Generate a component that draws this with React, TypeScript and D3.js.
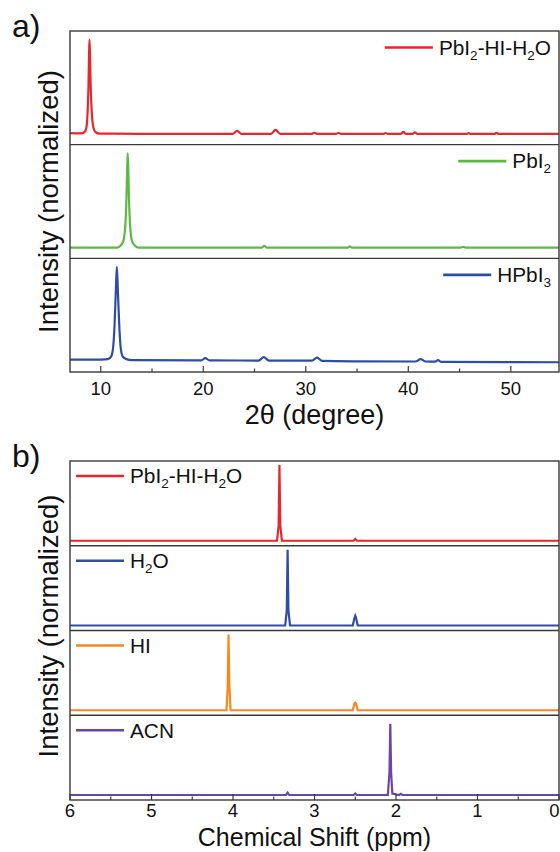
import React, { useLayoutEffect, useRef, useState } from "react";
import * as d3 from "d3";

// ---------- DATA ----------
// XRD patterns (2θ in degree, normalized intensity)
const xrdRed: [number, number][] = [
  [7, 0.02], [8.0, 0.018], [8.4, 0.03], [8.6, 0.08], [8.72, 0.25], [8.8, 0.5], [8.86, 0.85], [8.9, 1.0],
  [8.95, 0.85], [9.02, 0.5], [9.12, 0.25], [9.28, 0.08], [9.5, 0.03], [9.9, 0.016], [14, 0.014],
  [22.9, 0.014], [23.3, 0.045], [23.7, 0.014], [26.6, 0.014], [27.05, 0.055], [27.5, 0.014],
  [30.6, 0.014], [30.85, 0.025], [31.1, 0.014], [33.0, 0.014], [33.2, 0.025], [33.4, 0.014],
  [37.6, 0.014], [37.8, 0.022], [38.0, 0.014], [39.3, 0.014], [39.5, 0.035], [39.75, 0.014],
  [40.45, 0.014], [40.65, 0.03], [40.85, 0.014], [45.7, 0.012], [45.9, 0.02], [46.1, 0.012],
  [48.4, 0.012], [48.6, 0.025], [48.8, 0.012], [54.7, 0.012],
];
const xrdGreen: [number, number][] = [
  [7, 0.012], [11.6, 0.012], [11.9, 0.03], [12.2, 0.08], [12.4, 0.25], [12.5, 0.5], [12.58, 0.85],
  [12.63, 1.0], [12.68, 0.85], [12.76, 0.5], [12.86, 0.25], [13.05, 0.08], [13.35, 0.03], [13.7, 0.012],
  [25.7, 0.012], [25.95, 0.03], [26.2, 0.012], [34.1, 0.012], [34.3, 0.025], [34.5, 0.012],
  [45.1, 0.012], [45.35, 0.02], [45.6, 0.012], [54.7, 0.012],
];
const xrdBlue: [number, number][] = [
  [7, 0.03], [10.0, 0.03], [10.7, 0.035], [11.0, 0.06], [11.2, 0.15], [11.35, 0.4], [11.47, 0.75],
  [11.57, 1.0], [11.67, 0.75], [11.8, 0.4], [11.95, 0.15], [12.15, 0.06], [12.5, 0.035], [13.0, 0.025],
  [19.8, 0.022], [20.2, 0.045], [20.6, 0.022], [25.4, 0.02], [25.9, 0.055], [26.4, 0.02],
  [30.6, 0.02], [31.1, 0.05], [31.6, 0.016], [35, 0.012], [40.7, 0.01], [41.2, 0.035], [41.7, 0.01],
  [42.6, 0.008], [42.9, 0.025], [43.2, 0.006], [54.7, 0.002],
];

// 1H NMR spectra (ppm, normalized intensity)
const nmrRed: [number, number][] = [
  [6, 0], [3.46, 0], [3.44, 0.2], [3.43, 1.0], [3.42, 0.2], [3.4, 0], [2.52, 0], [2.5, 0.025], [2.48, 0], [0, 0],
];
const nmrBlue: [number, number][] = [
  [6, 0], [3.36, 0], [3.34, 0.2], [3.33, 1.0], [3.32, 0.2], [3.3, 0], [2.53, 0], [2.51, 0.1], [2.5, 0.13],
  [2.49, 0.1], [2.47, 0], [0, 0],
];
const nmrOrange: [number, number][] = [
  [6, 0], [4.08, 0], [4.065, 0.3], [4.06, 0.6], [4.055, 1.0], [4.045, 0.35], [4.03, 0], [2.53, 0],
  [2.51, 0.09], [2.5, 0.1], [2.49, 0.09], [2.47, 0], [0, 0],
];
const nmrPurple: [number, number][] = [
  [6, 0], [3.35, 0], [3.33, 0.03], [3.31, 0], [2.52, 0], [2.5, 0.02], [2.48, 0], [2.1, 0], [2.08, 0.3],
  [2.07, 0.94], [2.06, 0.3], [2.045, 0.02], [1.96, 0], [1.94, 0.015], [1.92, 0], [0, 0],
];

const xrdNames = ["PbI_2-HI-H_2O", "PbI_2", "HPbI_3"];
const nmrNames = ["PbI_2-HI-H_2O", "H_2O", "HI", "ACN"];
const xrdColors = ["#e8262b", "#5cb946", "#2f4da3"];
const nmrColors = ["#e8262b", "#2f4da3", "#f7871f", "#6b47a3"];

const xrdTicks = [10, 20, 30, 40, 50];
const xrdMinor = [15, 25, 35, 45];
const nmrTicks = [6, 5, 4, 3, 2, 1, 0];
const nmrMinor = [5.5, 4.5, 3.5, 2.5, 1.5, 0.5];

const xrdTitle = "2θ (degree)";
const nmrTitle = "Chemical Shift (ppm)";
const yTitle = "Intensity (normalized)";

// ---------- LAYOUT ----------
const W = 560;
const H = 852;
const L = 70;
const R = 559;
const FONT = "'Liberation Sans', Arial, sans-serif";
const FRAME = "#3a3a3a";
const LEG_FS = 20.8;

function SubText({ label, subSize }: { label: string; subSize: number }) {
  const parts: React.ReactNode[] = [];
  let buf = "";
  let sub = false;
  let k = 0;
  for (let i = 0; i < label.length; i++) {
    const c = label[i];
    if (c === "_") {
      if (buf) parts.push(<tspan key={k++} dy={sub ? -5 : 0}>{buf}</tspan>);
      buf = "";
      parts.push(
        <tspan key={k++} fontSize={subSize} dy={5}>
          {label[i + 1]}
        </tspan>
      );
      i++;
      sub = true;
    } else {
      buf += c;
    }
  }
  if (buf) parts.push(<tspan key={k++} dy={sub ? -5 : 0}>{buf}</tspan>);
  return <>{parts}</>;
}

function Legend({
  label,
  color,
  x,
  y,
  anchor,
}: {
  label: string;
  color: string;
  x: number;
  y: number;
  anchor: "start" | "end";
}) {
  const ref = useRef<SVGTextElement>(null);
  const [w, setW] = useState(0);
  useLayoutEffect(() => {
    if (ref.current) setW(ref.current.getComputedTextLength());
  }, [label]);
  const lineLen = 48;
  const gap = 6;
  let lx1: number, lx2: number;
  if (anchor === "end") {
    lx2 = x - w - gap;
    lx1 = lx2 - lineLen;
  } else {
    lx1 = x - gap - lineLen;
    lx2 = x - gap;
  }
  return (
    <g>
      <line x1={lx1} x2={lx2} y1={y} y2={y} stroke={color} strokeWidth={2.6} />
      <text ref={ref} x={x} y={y + 7.3} textAnchor={anchor} fontSize={LEG_FS} fill="#111" fontFamily={FONT}>
        <SubText label={label} subSize={13.5} />
      </text>
    </g>
  );
}

export default function App() {
  // XRD section
  const xTop = 31;
  const xBottom = 372;
  const xrdPanelH = (xBottom - xTop) / 3;
  const xs = d3.scaleLinear().domain([7, 54.7]).range([L, R]);
  const xrdSeries = [xrdRed, xrdGreen, xrdBlue];

  // NMR section
  const nTop = 461;
  const nBottom = 800;
  const nmrPanelH = (nBottom - nTop) / 4;
  const ns = d3.scaleLinear().domain([6, 0]).range([L, R]);
  const nmrSeries = [nmrRed, nmrBlue, nmrOrange, nmrPurple];

  return (
    <svg
      width={W}
      height={H}
      style={{ position: "absolute", left: 0, top: 0, background: "#fff" }}
      fontFamily={FONT}
    >
      <rect x={0} y={0} width={W} height={H} fill="#fff" />
      {/* panel labels */}
      <text x={12} y={37} fontSize={32} fill="#111">a)</text>
      <text x={12} y={467} fontSize={32} fill="#111">b)</text>

      {/* XRD panels */}
      {xrdSeries.map((data, i) => {
        const top = xTop + i * xrdPanelH;
        const bot = top + xrdPanelH;
        const ys = d3.scaleLinear().domain([-0.1, 1.09]).range([bot, top]);
        const line = d3
          .line<[number, number]>()
          .x((d) => xs(d[0]))
          .y((d) => ys(d[1]))
          .curve(d3.curveMonotoneX);
        return (
          <g key={"x" + i}>
            <clipPath id={"cx" + i}>
              <rect x={L} y={top} width={R - L} height={xrdPanelH} />
            </clipPath>
            <path d={line(data) || ""} fill="none" stroke={xrdColors[i]} strokeWidth={2.2} clipPath={`url(#cx${i})`} />
            <Legend label={xrdNames[i]} color={xrdColors[i]} x={551} y={top + 16.5} anchor="end" />
          </g>
        );
      })}
      {[1, 2].map((i) => (
        <line key={"xd" + i} x1={L} x2={R} y1={xTop + i * xrdPanelH} y2={xTop + i * xrdPanelH} stroke={FRAME} strokeWidth={1.4} />
      ))}
      <rect x={L} y={xTop} width={R - L} height={xBottom - xTop} fill="none" stroke={FRAME} strokeWidth={1.4} />
      {xrdTicks.map((t) => (
        <g key={"xt" + t}>
          <line x1={xs(t)} x2={xs(t)} y1={xBottom} y2={xBottom - 6} stroke={FRAME} strokeWidth={1.2} />
          <text x={xs(t)} y={395} textAnchor="middle" fontSize={18.5} fill="#111">{t}</text>
        </g>
      ))}
      {xrdMinor.map((t) => (
        <line key={"xm" + t} x1={xs(t)} x2={xs(t)} y1={xBottom} y2={xBottom - 3.5} stroke={FRAME} strokeWidth={1.2} />
      ))}
      <text x={(L + R) / 2} y={424} textAnchor="middle" fontSize={27} fill="#111">{xrdTitle}</text>
      <text transform={`translate(58,${(xTop + xBottom) / 2}) rotate(-90)`} textAnchor="middle" fontSize={27.5} fill="#111">
        {yTitle}
      </text>

      {/* NMR panels */}
      {nmrSeries.map((data, i) => {
        const top = nTop + i * nmrPanelH;
        const bot = top + nmrPanelH;
        const ys = d3.scaleLinear().domain([-0.066, 1.053]).range([bot, top]);
        const line = d3
          .line<[number, number]>()
          .x((d) => ns(d[0]))
          .y((d) => ys(d[1]));
        return (
          <g key={"n" + i}>
            <path d={line(data) || ""} fill="none" stroke={nmrColors[i]} strokeWidth={2.2} />
            <Legend label={nmrNames[i]} color={nmrColors[i]} x={130} y={top + 15} anchor="start" />
          </g>
        );
      })}
      {[1, 2, 3].map((i) => (
        <line key={"nd" + i} x1={L} x2={R} y1={nTop + i * nmrPanelH} y2={nTop + i * nmrPanelH} stroke={FRAME} strokeWidth={1.4} />
      ))}
      <rect x={L} y={nTop} width={R - L} height={nBottom - nTop} fill="none" stroke={FRAME} strokeWidth={1.4} />
      {nmrTicks.map((t, i) => {
        const last = i === nmrTicks.length - 1;
        return (
          <g key={"nt" + t}>
            <line x1={ns(t)} x2={ns(t)} y1={nBottom} y2={nBottom - 6} stroke={FRAME} strokeWidth={1.2} />
            <text
              x={last ? W - 0.5 : ns(t)}
              y={817}
              textAnchor={last ? "end" : "middle"}
              fontSize={18.5}
              fill="#111"
            >
              {t}
            </text>
          </g>
        );
      })}
      {nmrMinor.map((t) => (
        <line key={"nm" + t} x1={ns(t)} x2={ns(t)} y1={nBottom} y2={nBottom - 3.5} stroke={FRAME} strokeWidth={1.2} />
      ))}
      <text x={(L + R) / 2} y={846} textAnchor="middle" fontSize={25} fill="#111">{nmrTitle}</text>
      <text transform={`translate(58,626) rotate(-90)`} textAnchor="middle" fontSize={27.5} fill="#111">
        {yTitle}
      </text>
    </svg>
  );
}
